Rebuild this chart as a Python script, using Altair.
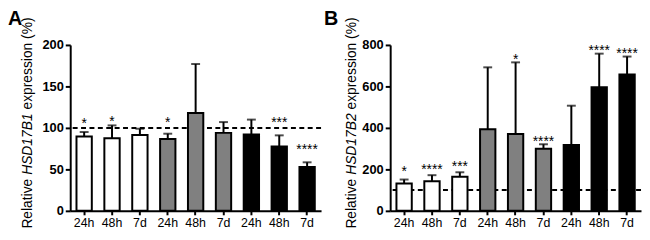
import altair as alt
import pandas as pd

tick_labels = ["24h", "48h", "7d", "24h", "48h", "7d", "24h", "48h", "7d"]
groups = ["Group 1"] * 3 + ["Group 2"] * 3 + ["Group 3"] * 3
group_colors = ["white", "#808080", "black"]

# Panel A: HSD17B1
a_mean = [89.5, 87.5, 91.5, 86.5, 118, 94, 92, 77.5, 53]
a_err = [95, 103, 99, 93, 177, 107, 110, 91, 58.5]
a_stars = ["*", "*", "", "*", "", "", "", "***", "****"]
a_star_y = [109, 112, None, 110, None, None, None, 110, 78]

# Panel B: HSD17B2
b_mean = [132, 143, 164, 393, 371, 299, 317, 596, 657]
b_err = [151, 172, 186, 692, 716, 321, 507, 758, 744]
b_stars = ["*", "****", "***", "", "*", "****", "", "****", "****"]
b_star_y = [207, 215, 231, None, 748, 350, None, 790, 776]

FONT = "Liberation Sans"
W, H = 254, 168

label_expr = "[" + ",".join("'%s'" % t for t in tick_labels) + "][toNumber(datum.value)]"


def panel(mean, err, stars, star_y, ymax, ystep, gene, letter, letter_x, title_x):
    df = pd.DataFrame({
        "idx": list(range(9)),
        "group": groups,
        "mean": mean,
        "err": err,
        "stars": stars,
        "star_y": star_y,
    })
    xaxis = alt.Axis(title=None, labelExpr=label_expr, labelAngle=0, tickSize=4,
                     labelFontSize=12.5, labelPadding=2, labelFont=FONT)
    x = alt.X("idx:N", scale=alt.Scale(paddingInner=0.45, paddingOuter=0.225), axis=xaxis)
    yscale = alt.Scale(domain=[0, ymax], nice=False)
    yaxis = alt.Axis(title=None, values=list(range(0, ymax + 1, ystep)), tickSize=5,
                     labelFontSize=13, labelFontWeight="bold", labelPadding=2, labelFont=FONT)

    base = alt.Chart(df)
    ref = alt.Chart(pd.DataFrame({"ref": [100]})).mark_rule(
        strokeDash=[5, 3.5], strokeWidth=2, color="black"
    ).encode(y=alt.Y("ref:Q", scale=yscale, axis=yaxis))
    bars = base.mark_bar(stroke="black", strokeWidth=2).encode(
        x=x,
        y=alt.Y("mean:Q", scale=yscale, axis=yaxis),
        color=alt.Color("group:N", scale=alt.Scale(domain=groups[::3], range=group_colors), legend=None),
    )
    erule = base.mark_rule(strokeWidth=2, color="black").encode(
        x=x, y=alt.Y("mean:Q", scale=yscale, axis=yaxis), y2="err:Q")
    caps = base.mark_tick(size=9, thickness=2, color="black").encode(
        x=x, y=alt.Y("err:Q", scale=yscale, axis=yaxis))
    star = base.transform_filter("datum.stars != ''").mark_text(
        fontSize=14, dy=8, baseline="alphabetic", color="black", font=FONT
    ).encode(x=x, y=alt.Y("star_y:Q", scale=yscale, axis=yaxis), text="stars:N")

    # rotated y title with italic gene name
    fs = 14
    y0 = 186
    w_rel = 3.612 * fs
    w_sp = 0.278 * fs
    w_gene = 4.446 * fs
    parts = [("Relative", y0, "normal"),
             (gene, y0 - w_rel - w_sp, "italic"),
             ("expression (%)", y0 - w_rel - w_sp - w_gene - w_sp, "normal")]
    titles = []
    for txt, ypos, style in parts:
        titles.append(
            alt.Chart(pd.DataFrame({"t": [txt]})).mark_text(
                angle=270, align="left", baseline="middle", fontSize=fs,
                fontStyle=style, font=FONT, color="black"
            ).encode(x=alt.value(title_x), y=alt.value(ypos), text="t:N")
        )
    let = alt.Chart(pd.DataFrame({"t": [letter]})).mark_text(
        align="left", baseline="alphabetic", fontSize=20, fontWeight="bold",
        font=FONT, color="black"
    ).encode(x=alt.value(letter_x), y=alt.value(-20), text="t:N")

    return alt.layer(ref, bars, erule, caps, star, *titles, let).properties(width=W, height=H)


pa = panel(a_mean, a_err, a_stars, a_star_y, 200, 50, "HSD17B1", "A", -63, -43)
pb = panel(b_mean, b_err, b_stars, b_star_y, 800, 200, "HSD17B2", "B", -67, -38.5)

chart = alt.hconcat(pa, pb, spacing=2).properties(
    padding={"left": 0, "top": 0, "right": 0, "bottom": 0}
).configure_axis(
    domainColor="black", domainWidth=2, tickColor="black", tickWidth=2,
    labelColor="black", grid=False
).configure_view(stroke=None)

chart.save("out.html", embed_options={"renderer": "svg", "actions": False})
